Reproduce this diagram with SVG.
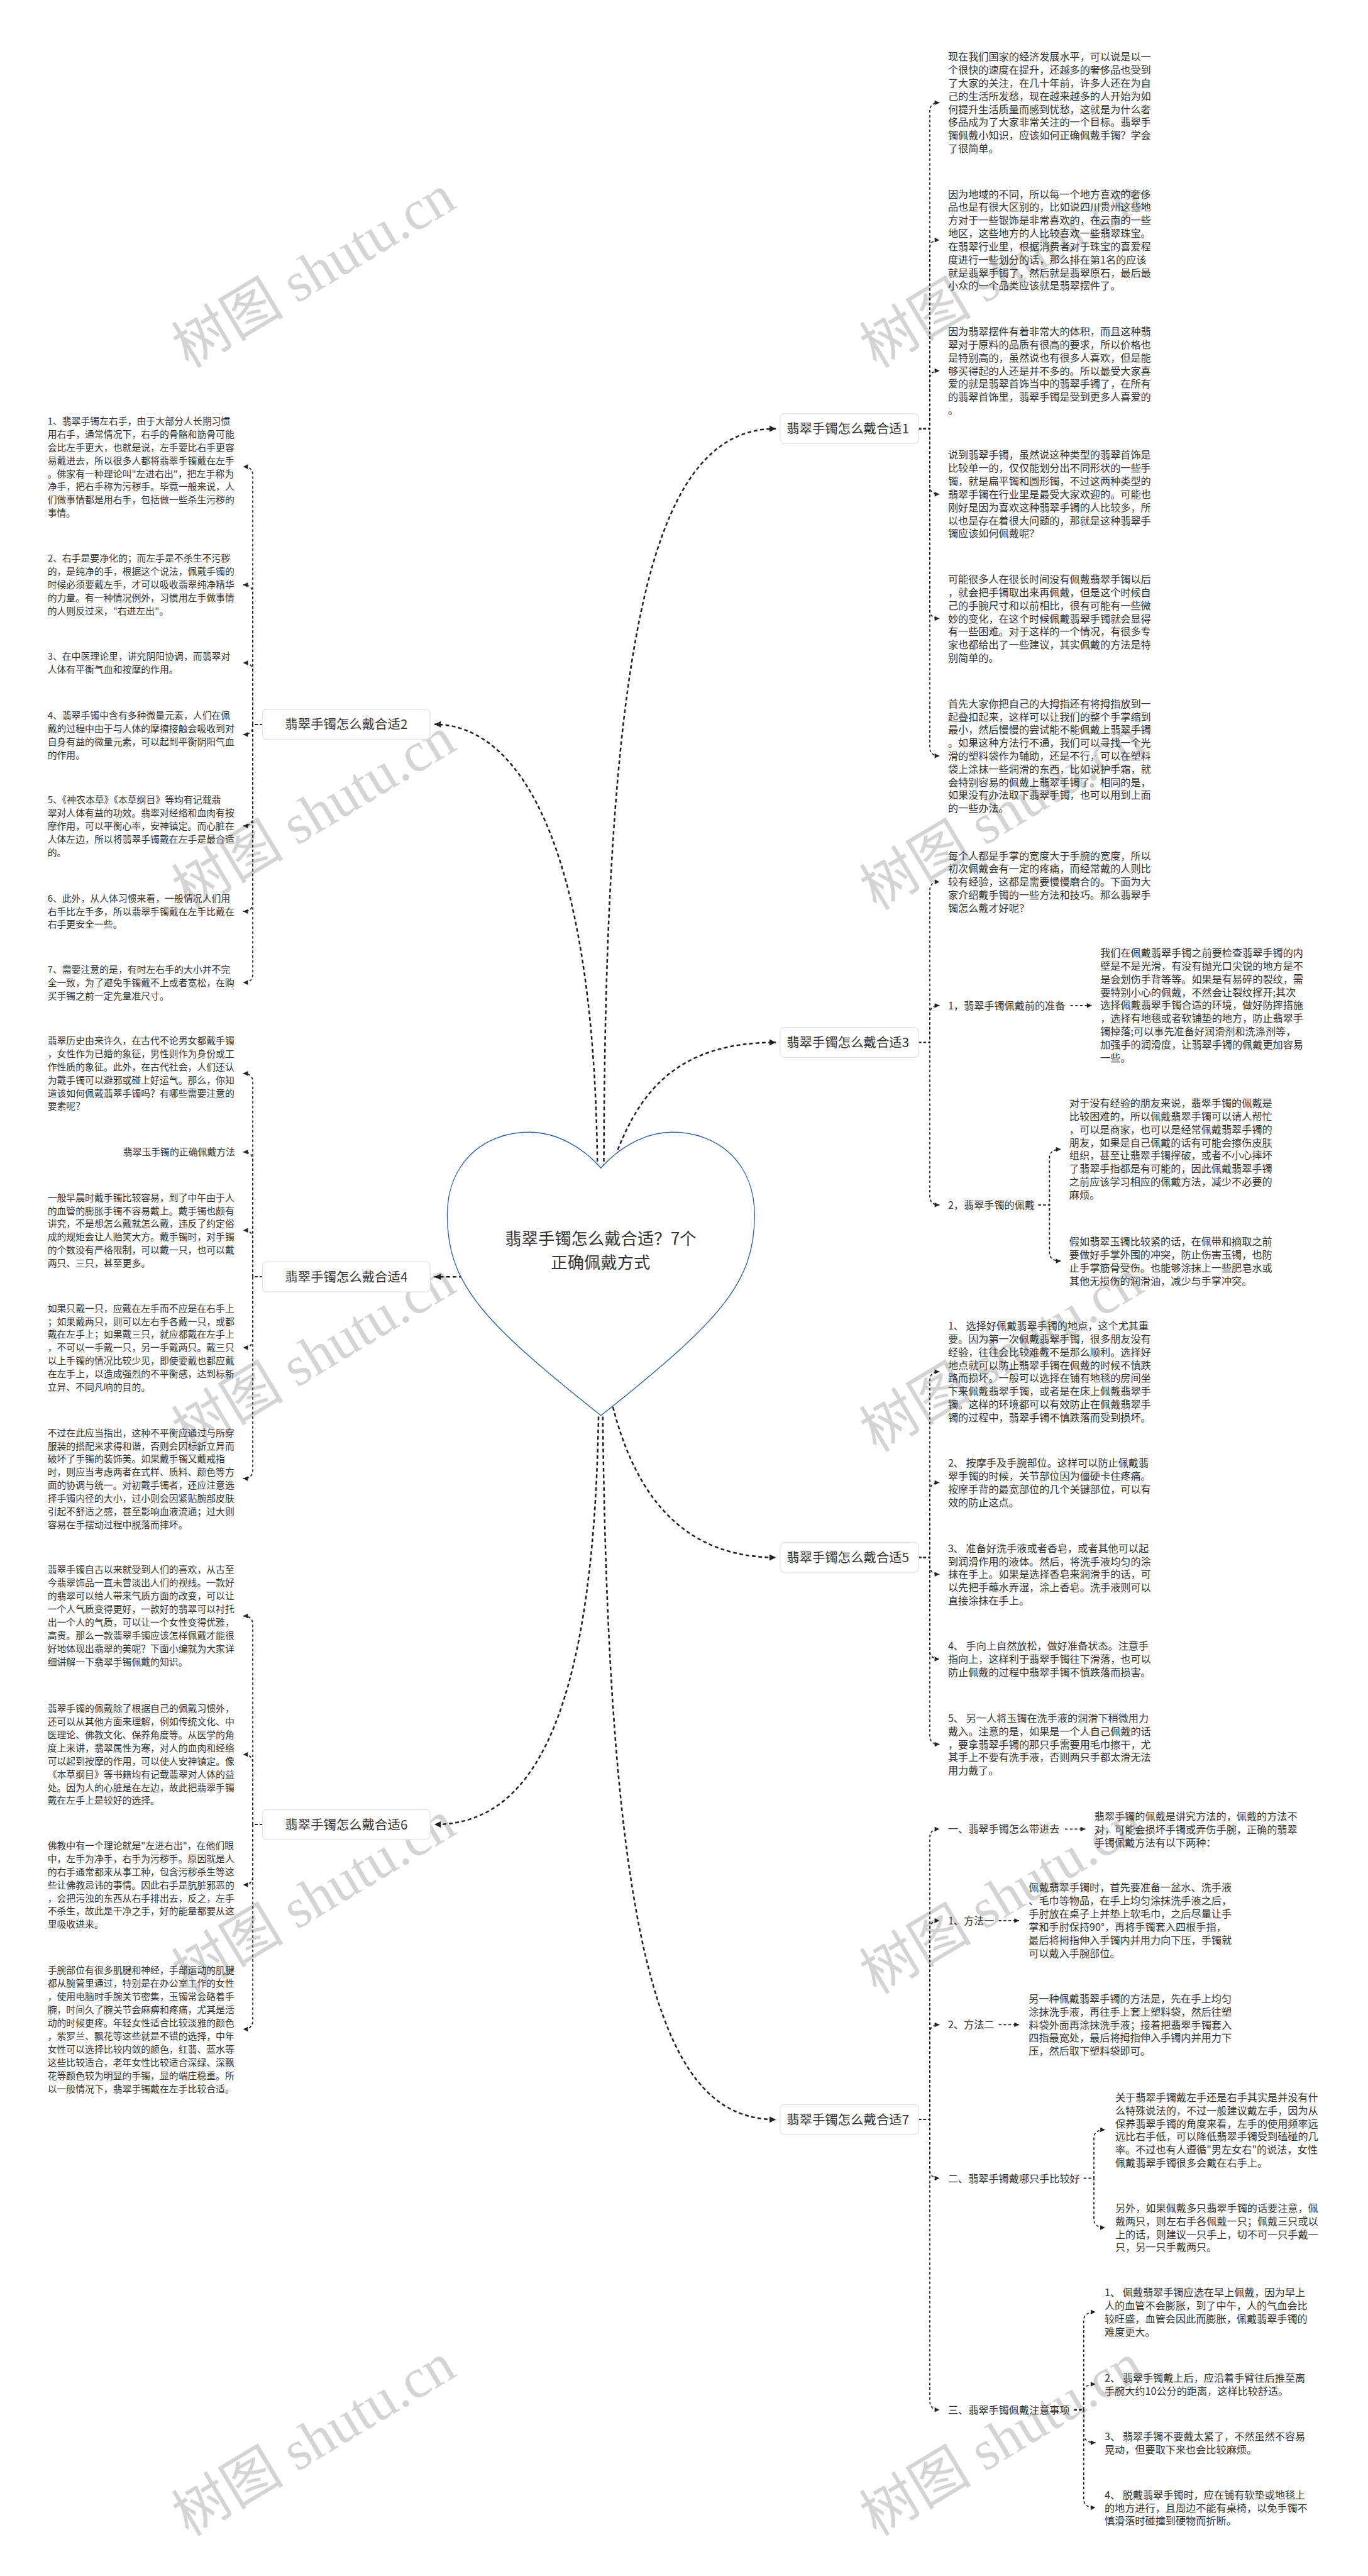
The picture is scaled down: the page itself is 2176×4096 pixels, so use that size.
<svg xmlns="http://www.w3.org/2000/svg" width="2176" height="4096" viewBox="0 0 2176 4096">
<style>
.r{font-family:"Noto Sans CJK SC","Liberation Sans",sans-serif;font-size:19px;fill:#333}
.l{font-family:"Noto Sans CJK SC","Liberation Sans",sans-serif;font-size:17.5px;fill:#333}
.n{font-family:"Noto Sans CJK SC","Liberation Sans",sans-serif;font-size:24px;fill:#333}
.h{font-family:"Noto Sans CJK SC","Liberation Sans",sans-serif;font-size:31px;fill:#333}
.box{fill:#fff;stroke:#e2e2e2;stroke-width:1.5}
.c{fill:none;stroke:#222;stroke-width:3;stroke-dasharray:7 5}
.b{fill:none;stroke:#222;stroke-width:2;stroke-dasharray:5 4}
.wm{font-family:"Liberation Serif","Noto Sans CJK SC",serif;font-size:105px;fill:#d4d4d4}
</style>
<defs>
<marker id="am" viewBox="0 0 10 10" refX="10" refY="5" markerWidth="14" markerHeight="12" markerUnits="userSpaceOnUse" orient="auto"><path d="M0,0L10,5L0,10z" fill="#222"/></marker>
<marker id="as" viewBox="0 0 10 10" refX="10" refY="5" markerWidth="10" markerHeight="9" markerUnits="userSpaceOnUse" orient="auto"><path d="M0,0L10,5L0,10z" fill="#222"/></marker>
</defs>
<rect width="2176" height="4096" fill="#fff"/>
<g transform="scale(0.85)">
<g id="watermarks">
<text class="wm" x="353" y="690" transform="rotate(-31 353 690)">树图 shutu.cn</text>
<text class="wm" x="1640" y="690" transform="rotate(-31 1640 690)">树图 shutu.cn</text>
<text class="wm" x="353" y="1704" transform="rotate(-31 353 1704)">树图 shutu.cn</text>
<text class="wm" x="1640" y="1704" transform="rotate(-31 1640 1704)">树图 shutu.cn</text>
<text class="wm" x="353" y="2718" transform="rotate(-31 353 2718)">树图 shutu.cn</text>
<text class="wm" x="1640" y="2718" transform="rotate(-31 1640 2718)">树图 shutu.cn</text>
<text class="wm" x="353" y="3732" transform="rotate(-31 353 3732)">树图 shutu.cn</text>
<text class="wm" x="1640" y="3732" transform="rotate(-31 1640 3732)">树图 shutu.cn</text>
<text class="wm" x="353" y="4746" transform="rotate(-31 353 4746)">树图 shutu.cn</text>
<text class="wm" x="1640" y="4746" transform="rotate(-31 1640 4746)">树图 shutu.cn</text>
</g>
<g id="connectors">
<path class="c" marker-end="url(#am)" d="M1130,2185 C1132,1150 1230,802 1452,802"/>
<path class="c" marker-end="url(#am)" d="M1118,2185 C1112,1550 960,1355 813,1355"/>
<path class="c" marker-end="url(#am)" d="M1156,2151 C1200,2040 1270,1950 1452,1950"/>
<path class="c" marker-end="url(#am)" d="M866,2388.5 H813"/>
<path class="c" marker-end="url(#am)" d="M1147,2632 C1190,2800 1280,2913.5 1452,2913.5"/>
<path class="c" marker-end="url(#am)" d="M1120,2650 C1110,3250 980,3413 813,3413"/>
<path class="c" marker-end="url(#am)" d="M1128,2650 C1140,3700 1250,3965 1452,3965"/>
<!-- branch 1 -->
<path class="b" marker-end="url(#as)" d="M1719,802 H1740 V208 Q1740,192 1758,192"/>
<path class="b" marker-end="url(#as)" d="M1719,802 H1740 V465 Q1740,449 1758,449"/>
<path class="b" marker-end="url(#as)" d="M1719,802 H1740 V709.5 Q1740,693.5 1758,693.5"/>
<path class="b" marker-end="url(#as)" d="M1719,802 H1740 V908.5 Q1740,924.5 1758,924.5"/>
<path class="b" marker-end="url(#as)" d="M1719,802 H1740 V1141 Q1740,1157 1758,1157"/>
<path class="b" marker-end="url(#as)" d="M1719,802 H1740 V1398 Q1740,1414 1758,1414"/>
<!-- branch 3 -->
<path class="b" marker-end="url(#as)" d="M1719,1950 H1740 V1665.6 Q1740,1649.6 1758,1649.6"/>
<path class="b" marker-end="url(#as)" d="M1719,1950 H1740 V1897 Q1740,1881 1758,1881"/>
<path class="b" marker-end="url(#as)" d="M1719,1950 H1740 V2238 Q1740,2254 1758,2254"/>
<path class="b" marker-end="url(#as)" d="M2003,1881 H2043"/>
<path class="b" marker-end="url(#as)" d="M1943,2254 H1964 V2166 Q1964,2150 1985,2150"/>
<path class="b" marker-end="url(#as)" d="M1943,2254 H1964 V2343 Q1964,2359 1985,2359"/>
<!-- branch 5 -->
<path class="b" marker-end="url(#as)" d="M1719,2913.5 H1740 V2582 Q1740,2566 1758,2566"/>
<path class="b" marker-end="url(#as)" d="M1719,2913.5 H1740 V2789.5 Q1740,2773.5 1758,2773.5"/>
<path class="b" marker-end="url(#as)" d="M1719,2913.5 H1740 V2929 Q1740,2945 1758,2945"/>
<path class="b" marker-end="url(#as)" d="M1719,2913.5 H1740 V3087.5 Q1740,3103.5 1758,3103.5"/>
<path class="b" marker-end="url(#as)" d="M1719,2913.5 H1740 V3247 Q1740,3263 1758,3263"/>
<!-- branch 7 -->
<path class="b" marker-end="url(#as)" d="M1719,3965 H1740 V3437.6 Q1740,3421.6 1758,3421.6"/>
<path class="b" marker-end="url(#as)" d="M1719,3965 H1740 V3608.8 Q1740,3592.8 1758,3592.8"/>
<path class="b" marker-end="url(#as)" d="M1719,3965 H1740 V3803.5 Q1740,3787.5 1758,3787.5"/>
<path class="b" marker-end="url(#as)" d="M1719,3965 H1740 V4058.7 Q1740,4074.7 1758,4074.7"/>
<path class="b" marker-end="url(#as)" d="M1719,3965 H1740 V4491.9 Q1740,4507.9 1758,4507.9"/>
<path class="b" marker-end="url(#as)" d="M1993,3421.6 H2031"/>
<path class="b" marker-end="url(#as)" d="M1869,3592.8 H1907"/>
<path class="b" marker-end="url(#as)" d="M1869,3787.5 H1907"/>
<path class="b" marker-end="url(#as)" d="M2028,4074.7 H2047 V4000 Q2047,3984 2068,3984"/>
<path class="b" marker-end="url(#as)" d="M2028,4074.7 H2047 V4151 Q2047,4167 2068,4167"/>
<path class="b" marker-end="url(#as)" d="M2010,4507.9 H2028 V4341 Q2028,4325 2050,4325"/>
<path class="b" marker-end="url(#as)" d="M2010,4507.9 H2028 V4476 Q2028,4460 2050,4460"/>
<path class="b" marker-end="url(#as)" d="M2010,4507.9 H2028 V4553.5 Q2028,4569.5 2050,4569.5"/>
<path class="b" marker-end="url(#as)" d="M2010,4507.9 H2028 V4675 Q2028,4691 2050,4691"/>
<!-- branch 2 -->
<path class="b" marker-end="url(#as)" d="M491,1355 H473 V889 Q473,873 455,873"/>
<path class="b" marker-end="url(#as)" d="M491,1355 H473 V1110 Q473,1094 455,1094"/>
<path class="b" marker-end="url(#as)" d="M491,1355 H473 V1256 Q473,1240 455,1240"/>
<path class="b" marker-end="url(#as)" d="M491,1355 H473 V1358 Q473,1374 455,1374"/>
<path class="b" marker-end="url(#as)" d="M491,1355 H473 V1529 Q473,1545 455,1545"/>
<path class="b" marker-end="url(#as)" d="M491,1355 H473 V1689 Q473,1705 455,1705"/>
<path class="b" marker-end="url(#as)" d="M491,1355 H473 V1822 Q473,1838 455,1838"/>
<!-- branch 4 -->
<path class="b" marker-end="url(#as)" d="M491,2388.5 H473 V2024 Q473,2008 455,2008"/>
<path class="b" marker-end="url(#as)" d="M491,2388.5 H473 V2171 Q473,2155 455,2155"/>
<path class="b" marker-end="url(#as)" d="M491,2388.5 H473 V2317.5 Q473,2301.5 455,2301.5"/>
<path class="b" marker-end="url(#as)" d="M491,2388.5 H473 V2505 Q473,2521 455,2521"/>
<path class="b" marker-end="url(#as)" d="M491,2388.5 H473 V2750 Q473,2766 455,2766"/>
<!-- branch 6 -->
<path class="b" marker-end="url(#as)" d="M491,3413 H473 V3039 Q473,3023 455,3023"/>
<path class="b" marker-end="url(#as)" d="M491,3413 H473 V3298 Q473,3282 455,3282"/>
<path class="b" marker-end="url(#as)" d="M491,3413 H473 V3509.8 Q473,3525.8 455,3525.8"/>
<path class="b" marker-end="url(#as)" d="M491,3413 H473 V3780 Q473,3796 455,3796"/>
</g>
<g id="center">
<path d="M1124.5,2185 C1159,2145 1209,2118 1258,2118 C1349,2118 1412,2180 1412,2273 C1412,2400 1349,2470 1124.5,2648 C900,2470 837,2400 837,2273 C837,2180 900,2118 991,2118 C1040,2118 1090,2145 1124.5,2185 Z" fill="#fff" stroke="#2b5fa8" stroke-width="1.6"/>
<text class="h" text-anchor="middle"><tspan x="1124" y="2327.8">翡翠手镯怎么戴合适？7个</tspan><tspan x="1124" y="2372.8">正确佩戴方式</tspan></text>
</g>
<g id="node1"><rect class="box" x="1460" y="774" width="259" height="56" rx="8"/><text class="n" x="1472" y="811.1">翡翠手镯怎么戴合适1</text></g>
<g id="node3"><rect class="box" x="1460" y="1922" width="259" height="56" rx="8"/><text class="n" x="1472" y="1959.1">翡翠手镯怎么戴合适3</text></g>
<g id="node5"><rect class="box" x="1460" y="2885.5" width="259" height="56" rx="8"/><text class="n" x="1472" y="2922.6">翡翠手镯怎么戴合适5</text></g>
<g id="node7"><rect class="box" x="1460" y="3937" width="259" height="56" rx="8"/><text class="n" x="1472" y="3974.1">翡翠手镯怎么戴合适7</text></g>
<g id="node2"><rect class="box" x="491" y="1327" width="314" height="56" rx="8"/><text class="n" x="648" y="1364.1" text-anchor="middle">翡翠手镯怎么戴合适2</text></g>
<g id="node4"><rect class="box" x="491" y="2360.5" width="314" height="56" rx="8"/><text class="n" x="648" y="2397.6" text-anchor="middle">翡翠手镯怎么戴合适4</text></g>
<g id="node6"><rect class="box" x="491" y="3385" width="314" height="56" rx="8"/><text class="n" x="648" y="3422.1" text-anchor="middle">翡翠手镯怎么戴合适6</text></g>

<g id="n1a"><text class="r" y="113.2"><tspan x="1774">现在我们国家的经济发展水平，可以说是以一</tspan><tspan x="1774" dy="24.5">个很快的速度在提升，还越多的奢侈品也受到</tspan><tspan x="1774" dy="24.5">了大家的关注，在几十年前，许多人还在为自</tspan><tspan x="1774" dy="24.5">己的生活所发愁，现在越来越多的人开始为如</tspan><tspan x="1774" dy="24.5">何提升生活质量而感到忧愁，这就是为什么奢</tspan><tspan x="1774" dy="24.5">侈品成为了大家非常关注的一个目标。翡翠手</tspan><tspan x="1774" dy="24.5">镯佩戴小知识，应该如何正确佩戴手镯？学会</tspan><tspan x="1774" dy="24.5">了很简单。</tspan></text></g>
<g id="n1b"><text class="r" y="370.2"><tspan x="1774">因为地域的不同，所以每一个地方喜欢的奢侈</tspan><tspan x="1774" dy="24.5">品也是有很大区别的，比如说四川贵州这些地</tspan><tspan x="1774" dy="24.5">方对于一些银饰是非常喜欢的，在云南的一些</tspan><tspan x="1774" dy="24.5">地区，这些地方的人比较喜欢一些翡翠珠宝。</tspan><tspan x="1774" dy="24.5">在翡翠行业里，根据消费者对于珠宝的喜爱程</tspan><tspan x="1774" dy="24.5">度进行一些划分的话，那么排在第1名的应该</tspan><tspan x="1774" dy="24.5">就是翡翠手镯了，然后就是翡翠原石，最后最</tspan><tspan x="1774" dy="24.5">小众的一个品类应该就是翡翠摆件了。</tspan></text></g>
<g id="n1c"><text class="r" y="627.2"><tspan x="1774">因为翡翠摆件有着非常大的体积，而且这种翡</tspan><tspan x="1774" dy="24.5">翠对于原料的品质有很高的要求，所以价格也</tspan><tspan x="1774" dy="24.5">是特别高的，虽然说也有很多人喜欢，但是能</tspan><tspan x="1774" dy="24.5">够买得起的人还是并不多的。所以最受大家喜</tspan><tspan x="1774" dy="24.5">爱的就是翡翠首饰当中的翡翠手镯了，在所有</tspan><tspan x="1774" dy="24.5">的翡翠首饰里，翡翠手镯是受到更多人喜爱的</tspan><tspan x="1774" dy="24.5">。</tspan></text></g>
<g id="n1d"><text class="r" y="858.2"><tspan x="1774">说到翡翠手镯，虽然说这种类型的翡翠首饰是</tspan><tspan x="1774" dy="24.5">比较单一的，仅仅能划分出不同形状的一些手</tspan><tspan x="1774" dy="24.5">镯，就是扁平镯和圆形镯，不过这两种类型的</tspan><tspan x="1774" dy="24.5">翡翠手镯在行业里是最受大家欢迎的。可能也</tspan><tspan x="1774" dy="24.5">刚好是因为喜欢这种翡翠手镯的人比较多，所</tspan><tspan x="1774" dy="24.5">以也是存在着很大问题的，那就是这种翡翠手</tspan><tspan x="1774" dy="24.5">镯应该如何佩戴呢？</tspan></text></g>
<g id="n1e"><text class="r" y="1090.8"><tspan x="1774">可能很多人在很长时间没有佩戴翡翠手镯以后</tspan><tspan x="1774" dy="24.5">，就会把手镯取出来再佩戴，但是这个时候自</tspan><tspan x="1774" dy="24.5">己的手腕尺寸和以前相比，很有可能有一些微</tspan><tspan x="1774" dy="24.5">妙的变化，在这个时候佩戴翡翠手镯就会显得</tspan><tspan x="1774" dy="24.5">有一些困难。对于这样的一个情况，有很多专</tspan><tspan x="1774" dy="24.5">家也都给出了一些建议，其实佩戴的方法是特</tspan><tspan x="1774" dy="24.5">别简单的。</tspan></text></g>
<g id="n1f"><text class="r" y="1323.2"><tspan x="1774">首先大家你把自己的大拇指还有将拇指放到一</tspan><tspan x="1774" dy="24.5">起叠扣起来，这样可以让我们的整个手掌缩到</tspan><tspan x="1774" dy="24.5">最小，然后慢慢的尝试能不能佩戴上翡翠手镯</tspan><tspan x="1774" dy="24.5">。如果这种方法行不通，我们可以寻找一个光</tspan><tspan x="1774" dy="24.5">滑的塑料袋作为辅助，还是不行，可以在塑料</tspan><tspan x="1774" dy="24.5">袋上涂抹一些润滑的东西，比如说护手霜，就</tspan><tspan x="1774" dy="24.5">会特别容易的佩戴上翡翠手镯了。相同的是，</tspan><tspan x="1774" dy="24.5">如果没有办法取下翡翠手镯，也可以用到上面</tspan><tspan x="1774" dy="24.5">的一些办法。</tspan></text></g>

<g id="n3a"><text class="r" y="1607.8"><tspan x="1774">每个人都是手掌的宽度大于手腕的宽度，所以</tspan><tspan x="1774" dy="24.5">初次佩戴会有一定的疼痛，而经常戴的人则比</tspan><tspan x="1774" dy="24.5">较有经验，这都是需要慢慢磨合的。下面为大</tspan><tspan x="1774" dy="24.5">家介绍戴手镯的一些方法和技巧。那么翡翠手</tspan><tspan x="1774" dy="24.5">镯怎么戴才好呢？</tspan></text></g>
<g id="n3-1"><text class="r" x="1774" y="1888">1，翡翠手镯佩戴前的准备</text></g>
<g id="n3-1a"><text class="r" y="1789.6"><tspan x="2059">我们在佩戴翡翠手镯之前要检查翡翠手镯的内</tspan><tspan x="2059" dy="24.5">壁是不是光滑，有没有抛光口尖锐的地方是不</tspan><tspan x="2059" dy="24.5">是会划伤手背等等。如果是有易碎的裂纹，需</tspan><tspan x="2059" dy="24.5">要特别小心的佩戴，不然会让裂纹撑开;其次</tspan><tspan x="2059" dy="24.5">选择佩戴翡翠手镯合适的环境，做好防摔措施</tspan><tspan x="2059" dy="24.5">，选择有地毯或者软铺垫的地方，防止翡翠手</tspan><tspan x="2059" dy="24.5">镯掉落;可以事先准备好润滑剂和洗涤剂等，</tspan><tspan x="2059" dy="24.5">加强手的润滑度，让翡翠手镯的佩戴更加容易</tspan><tspan x="2059" dy="24.5">一些。</tspan></text></g>
<g id="n3-2"><text class="r" x="1774" y="2261.2">2，翡翠手镯的佩戴</text></g>
<g id="n3-2a"><text class="r" y="2070.7"><tspan x="2001">对于没有经验的朋友来说，翡翠手镯的佩戴是</tspan><tspan x="2001" dy="24.5">比较困难的，所以佩戴翡翠手镯可以请人帮忙</tspan><tspan x="2001" dy="24.5">，可以是商家，也可以是经常佩戴翡翠手镯的</tspan><tspan x="2001" dy="24.5">朋友，如果是自己佩戴的话有可能会擦伤皮肤</tspan><tspan x="2001" dy="24.5">组织，甚至让翡翠手镯撑破，或者不小心摔坏</tspan><tspan x="2001" dy="24.5">了翡翠手指都是有可能的，因此佩戴翡翠手镯</tspan><tspan x="2001" dy="24.5">之前应该学习相应的佩戴方法，减少不必要的</tspan><tspan x="2001" dy="24.5">麻烦。</tspan></text></g>
<g id="n3-2b"><text class="r" y="2329.5"><tspan x="2001">假如翡翠玉镯比较紧的话，在佩带和摘取之前</tspan><tspan x="2001" dy="24.5">要做好手掌外围的冲突，防止伤害玉镯，也防</tspan><tspan x="2001" dy="24.5">止手掌筋骨受伤。也能够涂抹上一些肥皂水或</tspan><tspan x="2001" dy="24.5">其他无损伤的润滑油，减少与手掌冲突。</tspan></text></g>

<g id="n5a"><text class="r" y="2487.2"><tspan x="1774">1、 选择好佩戴翡翠手镯的地点，这个尤其重</tspan><tspan x="1774" dy="24.5">要。因为第一次佩戴翡翠手镯，很多朋友没有</tspan><tspan x="1774" dy="24.5">经验，往往会比较难戴不是那么顺利。选择好</tspan><tspan x="1774" dy="24.5">地点就可以防止翡翠手镯在佩戴的时候不慎跌</tspan><tspan x="1774" dy="24.5">路而损坏。一般可以选择在铺有地毯的房间坐</tspan><tspan x="1774" dy="24.5">下来佩戴翡翠手镯，或者是在床上佩戴翡翠手</tspan><tspan x="1774" dy="24.5">镯。这样的环境都可以有效防止在佩戴翡翠手</tspan><tspan x="1774" dy="24.5">镯的过程中，翡翠手镯不慎跌落而受到损坏。</tspan></text></g>
<g id="n5b"><text class="r" y="2743.9"><tspan x="1774">2、 按摩手及手腕部位。这样可以防止佩戴翡</tspan><tspan x="1774" dy="24.5">翠手镯的时候，关节部位因为僵硬卡住疼痛。</tspan><tspan x="1774" dy="24.5">按摩手背的最宽部位的几个关键部位，可以有</tspan><tspan x="1774" dy="24.5">效的防止这点。</tspan></text></g>
<g id="n5c"><text class="r" y="2903.2"><tspan x="1774">3、 准备好洗手液或者香皂，或者其他可以起</tspan><tspan x="1774" dy="24.5">到润滑作用的液体。然后，将洗手液均匀的涂</tspan><tspan x="1774" dy="24.5">抹在手上。如果是选择香皂来润滑手的话，可</tspan><tspan x="1774" dy="24.5">以先把手蘸水弄湿，涂上香皂。洗手液则可以</tspan><tspan x="1774" dy="24.5">直接涂抹在手上。</tspan></text></g>
<g id="n5d"><text class="r" y="3086.2"><tspan x="1774">4、 手向上自然放松，做好准备状态。注意手</tspan><tspan x="1774" dy="24.5">指向上，这样利于翡翠手镯往下滑落，也可以</tspan><tspan x="1774" dy="24.5">防止佩戴的过程中翡翠手镯不慎跌落而损害。</tspan></text></g>
<g id="n5e"><text class="r" y="3221.2"><tspan x="1774">5、 另一人将玉镯在洗手液的润滑下稍微用力</tspan><tspan x="1774" dy="24.5">戴入。注意的是，如果是一个人自己佩戴的话</tspan><tspan x="1774" dy="24.5">，要拿翡翠手镯的那只手需要用毛巾擦干，尤</tspan><tspan x="1774" dy="24.5">其手上不要有洗手液，否则两只手都太滑无法</tspan><tspan x="1774" dy="24.5">用力戴了。</tspan></text></g>

<g id="n7-1"><text class="r" x="1774" y="3428.8">一、翡翠手镯怎么带进去</text></g>
<g id="n7-1a"><text class="r" y="3404.7"><tspan x="2048">翡翠手镯的佩戴是讲究方法的，佩戴的方法不</tspan><tspan x="2048" dy="24.5">对，可能会损坏手镯或弄伤手腕，正确的翡翠</tspan><tspan x="2048" dy="24.5">手镯佩戴方法有以下两种：</tspan></text></g>
<g id="n7-2"><text class="r" x="1774" y="3600">1、方法一</text></g>
<g id="n7-2a"><text class="r" y="3538.2"><tspan x="1925">佩戴翡翠手镯时，首先要准备一盆水、洗手液</tspan><tspan x="1925" dy="24.5">、毛巾等物品，在手上均匀涂抹洗手液之后，</tspan><tspan x="1925" dy="24.5">手肘放在桌子上并垫上软毛巾，之后尽量让手</tspan><tspan x="1925" dy="24.5">掌和手肘保持90°，再将手镯套入四根手指，</tspan><tspan x="1925" dy="24.5">最后将拇指伸入手镯内并用力向下压，手镯就</tspan><tspan x="1925" dy="24.5">可以戴入手腕部位。</tspan></text></g>
<g id="n7-3"><text class="r" x="1774" y="3794.7">2、方法二</text></g>
<g id="n7-3a"><text class="r" y="3745.9"><tspan x="1925">另一种佩戴翡翠手镯的方法是，先在手上均匀</tspan><tspan x="1925" dy="24.5">涂抹洗手液，再往手上套上塑料袋，然后往塑</tspan><tspan x="1925" dy="24.5">料袋外面再涂抹洗手液；接着把翡翠手镯套入</tspan><tspan x="1925" dy="24.5">四指最宽处，最后将拇指伸入手镯内并用力下</tspan><tspan x="1925" dy="24.5">压，然后取下塑料袋即可。</tspan></text></g>
<g id="n7-4"><text class="r" x="1774" y="4081.9">二、翡翠手镯戴哪只手比较好</text></g>
<g id="n7-4a"><text class="r" y="3930.6"><tspan x="2087">关于翡翠手镯戴左手还是右手其实是并没有什</tspan><tspan x="2087" dy="24.5">么特殊说法的，不过一般建议戴左手，因为从</tspan><tspan x="2087" dy="24.5">保养翡翠手镯的角度来看，左手的使用频率远</tspan><tspan x="2087" dy="24.5">远比右手低，可以降低翡翠手镯受到磕碰的几</tspan><tspan x="2087" dy="24.5">率。不过也有人遵循"男左女右"的说法，女性</tspan><tspan x="2087" dy="24.5">佩戴翡翠手镯很多会戴在右手上。</tspan></text></g>
<g id="n7-4b"><text class="r" y="4137.6"><tspan x="2087">另外，如果佩戴多只翡翠手镯的话要注意，佩</tspan><tspan x="2087" dy="24.5">戴两只，则左右手各佩戴一只；佩戴三只或以</tspan><tspan x="2087" dy="24.5">上的话，则建议一只手上，切不可一只手戴一</tspan><tspan x="2087" dy="24.5">只，另一只手戴两只。</tspan></text></g>
<g id="n7-5"><text class="r" x="1774" y="4515.1">三、翡翠手镯佩戴注意事项</text></g>
<g id="n7-5a"><text class="r" y="4295.8"><tspan x="2067">1、 佩戴翡翠手镯应选在早上佩戴，因为早上</tspan><tspan x="2067" dy="24.5">人的血管不会膨胀，到了中午，人的气血会比</tspan><tspan x="2067" dy="24.5">较旺盛，血管会因此而膨胀，佩戴翡翠手镯的</tspan><tspan x="2067" dy="24.5">难度更大。</tspan></text></g>
<g id="n7-5b"><text class="r" y="4455.2"><tspan x="2067">2、 翡翠手镯戴上后，应沿着手臂往后推至离</tspan><tspan x="2067" dy="24.5">手腕大约10公分的距离，这样比较舒适。</tspan></text></g>
<g id="n7-5c"><text class="r" y="4564.9"><tspan x="2067">3、 翡翠手镯不要戴太紧了，不然虽然不容易</tspan><tspan x="2067" dy="24.5">晃动，但要取下来也会比较麻烦。</tspan></text></g>
<g id="n7-5d"><text class="r" y="4673.9"><tspan x="2067">4、 脱戴翡翠手镯时，应在铺有软垫或地毯上</tspan><tspan x="2067" dy="24.5">的地方进行，且周边不能有桌椅，以免手镯不</tspan><tspan x="2067" dy="24.5">慎滑落时碰撞到硬物而折断。</tspan></text></g>

<g id="n2a"><text class="l" y="794"><tspan x="89">1、翡翠手镯左右手，由于大部分人长期习惯</tspan><tspan x="89" dy="24.6">用右手，通常情况下，右手的骨骼和筋骨可能</tspan><tspan x="89" dy="24.6">会比左手更大，也就是说，左手要比右手更容</tspan><tspan x="89" dy="24.6">易戴进去，所以很多人都将翡翠手镯戴在左手</tspan><tspan x="89" dy="24.6">。佛家有一种理论叫"左进右出"，把左手称为</tspan><tspan x="89" dy="24.6">净手，把右手称为污秽手。毕竟一般来说，人</tspan><tspan x="89" dy="24.6">们做事情都是用右手，包括做一些杀生污秽的</tspan><tspan x="89" dy="24.6">事情。</tspan></text></g>
<g id="n2b"><text class="l" y="1050.7"><tspan x="89">2、右手是要净化的；而左手是不杀生不污秽</tspan><tspan x="89" dy="24.6">的，是纯净的手，根据这个说法，佩戴手镯的</tspan><tspan x="89" dy="24.6">时候必须要戴左手，才可以吸收翡翠纯净精华</tspan><tspan x="89" dy="24.6">的力量。有一种情况例外，习惯用左手做事情</tspan><tspan x="89" dy="24.6">的人则反过来，"右进左出"。</tspan></text></g>
<g id="n2c"><text class="l" y="1233.7"><tspan x="89">3、在中医理论里，讲究阴阳协调，而翡翠对</tspan><tspan x="89" dy="24.6">人体有平衡气血和按摩的作用。</tspan></text></g>
<g id="n2d"><text class="l" y="1344.7"><tspan x="89">4、翡翠手镯中含有多种微量元素，人们在佩</tspan><tspan x="89" dy="24.6">戴的过程中由于与人体的摩擦接触会吸收到对</tspan><tspan x="89" dy="24.6">自身有益的微量元素，可以起到平衡阴阳气血</tspan><tspan x="89" dy="24.6">的作用。</tspan></text></g>
<g id="n2e"><text class="l" y="1502.7"><tspan x="89">5、《神农本草》《本草纲目》等均有记载翡</tspan><tspan x="89" dy="24.6">翠对人体有益的功效。翡翠对经络和血肉有按</tspan><tspan x="89" dy="24.6">摩作用，可以平衡心率，安神镇定。而心脏在</tspan><tspan x="89" dy="24.6">人体左边，所以将翡翠手镯戴在左手是最合适</tspan><tspan x="89" dy="24.6">的。</tspan></text></g>
<g id="n2f"><text class="l" y="1686.7"><tspan x="89">6、此外，从人体习惯来看，一般情况人们用</tspan><tspan x="89" dy="24.6">右手比左手多，所以翡翠手镯戴在左手比戴在</tspan><tspan x="89" dy="24.6">右手更安全一些。</tspan></text></g>
<g id="n2g"><text class="l" y="1819.7"><tspan x="89">7、需要注意的是，有时左右手的大小并不完</tspan><tspan x="89" dy="24.6">全一致，为了避免手镯戴不上或者宽松，在购</tspan><tspan x="89" dy="24.6">买手镯之前一定先量准尺寸。</tspan></text></g>

<g id="n4a"><text class="l" y="1952.9"><tspan x="89">翡翠历史由来许久，在古代不论男女都戴手镯</tspan><tspan x="89" dy="24.6">，女性作为已婚的象征，男性则作为身份或工</tspan><tspan x="89" dy="24.6">作性质的象征。此外，在古代社会，人们还认</tspan><tspan x="89" dy="24.6">为戴手镯可以避邪或碰上好运气。那么，你知</tspan><tspan x="89" dy="24.6">道该如何佩戴翡翠手镯吗？有哪些需要注意的</tspan><tspan x="89" dy="24.6">要素呢？</tspan></text></g>
<g id="n4b"><text class="l" x="440" y="2161.7" text-anchor="end">翡翠玉手镯的正确佩戴方法</text></g>
<g id="n4c"><text class="l" y="2246.7"><tspan x="89">一般早晨时戴手镯比较容易，到了中午由于人</tspan><tspan x="89" dy="24.6">的血管的膨胀手镯不容易戴上。戴手镯也颇有</tspan><tspan x="89" dy="24.6">讲究，不是想怎么戴就怎么戴，违反了约定俗</tspan><tspan x="89" dy="24.6">成的规矩会让人贻笑大方。戴手镯时，对手镯</tspan><tspan x="89" dy="24.6">的个数没有严格限制，可以戴一只，也可以戴</tspan><tspan x="89" dy="24.6">两只、三只，甚至更多。</tspan></text></g>
<g id="n4d"><text class="l" y="2453.7"><tspan x="89">如果只戴一只，应戴在左手而不应是在右手上</tspan><tspan x="89" dy="24.6">；如果戴两只，则可以左右手各戴一只，或都</tspan><tspan x="89" dy="24.6">戴在左手上；如果戴三只，就应都戴在左手上</tspan><tspan x="89" dy="24.6">，不可以一手戴一只，另一手戴两只。戴三只</tspan><tspan x="89" dy="24.6">以上手镯的情况比较少见，即使要戴也都应戴</tspan><tspan x="89" dy="24.6">在左手上，以造成强烈的不平衡感，达到标新</tspan><tspan x="89" dy="24.6">立异、不同凡响的目的。</tspan></text></g>
<g id="n4e"><text class="l" y="2686.7"><tspan x="89">不过在此应当指出，这种不平衡应通过与所穿</tspan><tspan x="89" dy="24.6">服装的搭配来求得和谐，否则会因标新立异而</tspan><tspan x="89" dy="24.6">破坏了手镯的装饰美。如果戴手镯又戴戒指</tspan><tspan x="89" dy="24.6">时，则应当考虑两者在式样、质料、颜色等方</tspan><tspan x="89" dy="24.6">面的协调与统一。对初戴手镯者，还应注意选</tspan><tspan x="89" dy="24.6">择手镯内径的大小，过小则会因紧贴腕部皮肤</tspan><tspan x="89" dy="24.6">引起不舒适之感，甚至影响血液流通；过大则</tspan><tspan x="89" dy="24.6">容易在手摆动过程中脱落而摔坏。</tspan></text></g>

<g id="n6a"><text class="l" y="2942.7"><tspan x="89">翡翠手镯自古以来就受到人们的喜欢，从古至</tspan><tspan x="89" dy="24.6">今翡翠饰品一直未曾淡出人们的视线。一款好</tspan><tspan x="89" dy="24.6">的翡翠可以给人带来气质方面的改变，可以让</tspan><tspan x="89" dy="24.6">一个人气质变得更好，一款好的翡翠可以衬托</tspan><tspan x="89" dy="24.6">出一个人的气质，可以让一个女性变得优雅，</tspan><tspan x="89" dy="24.6">高贵。那么一款翡翠手镯应该怎样佩戴才能很</tspan><tspan x="89" dy="24.6">好地体现出翡翠的美呢？下面小编就为大家详</tspan><tspan x="89" dy="24.6">细讲解一下翡翠手镯佩戴的知识。</tspan></text></g>
<g id="n6b"><text class="l" y="3202.5"><tspan x="89">翡翠手镯的佩戴除了根据自己的佩戴习惯外，</tspan><tspan x="89" dy="24.6">还可以从其他方面来理解，例如传统文化、中</tspan><tspan x="89" dy="24.6">医理论、佛教文化、保养角度等。从医学的角</tspan><tspan x="89" dy="24.6">度上来讲，翡翠属性为寒，对人的血肉和经络</tspan><tspan x="89" dy="24.6">可以起到按摩的作用，可以使人安神镇定。像</tspan><tspan x="89" dy="24.6">《本草纲目》等书籍均有记载翡翠对人体的益</tspan><tspan x="89" dy="24.6">处。因为人的心脏是在左边，故此把翡翠手镯</tspan><tspan x="89" dy="24.6">戴在左手上是较好的选择。</tspan></text></g>
<g id="n6c"><text class="l" y="3458.7"><tspan x="89">佛教中有一个理论就是"左进右出"，在他们眼</tspan><tspan x="89" dy="24.6">中，左手为净手，右手为污秽手。原因就是人</tspan><tspan x="89" dy="24.6">的右手通常都来从事工种，包含污秽杀生等这</tspan><tspan x="89" dy="24.6">些让佛教忌讳的事情。因此右手是肮脏邪恶的</tspan><tspan x="89" dy="24.6">，会把污浊的东西从右手排出去，反之，左手</tspan><tspan x="89" dy="24.6">不杀生，故此是干净之手，好的能量都要从这</tspan><tspan x="89" dy="24.6">里吸收进来。</tspan></text></g>
<g id="n6d"><text class="l" y="3692.3"><tspan x="89">手腕部位有很多肌腱和神经，手部运动的肌腱</tspan><tspan x="89" dy="24.6">都从腕管里通过，特别是在办公室工作的女性</tspan><tspan x="89" dy="24.6">，使用电脑时手腕关节密集，玉镯常会硌着手</tspan><tspan x="89" dy="24.6">腕，时间久了腕关节会麻痹和疼痛，尤其是活</tspan><tspan x="89" dy="24.6">动的时候更疼。年轻女性适合比较淡雅的颜色</tspan><tspan x="89" dy="24.6">，紫罗兰、飘花等这些就是不错的选择，中年</tspan><tspan x="89" dy="24.6">女性可以选择比较内敛的颜色，红翡、蓝水等</tspan><tspan x="89" dy="24.6">这些比较适合，老年女性比较适合深绿、深飘</tspan><tspan x="89" dy="24.6">花等颜色较为明显的手镯，显的端庄稳重。所</tspan><tspan x="89" dy="24.6">以一般情况下，翡翠手镯戴在左手比较合适。</tspan></text></g>
</g>
</svg>
